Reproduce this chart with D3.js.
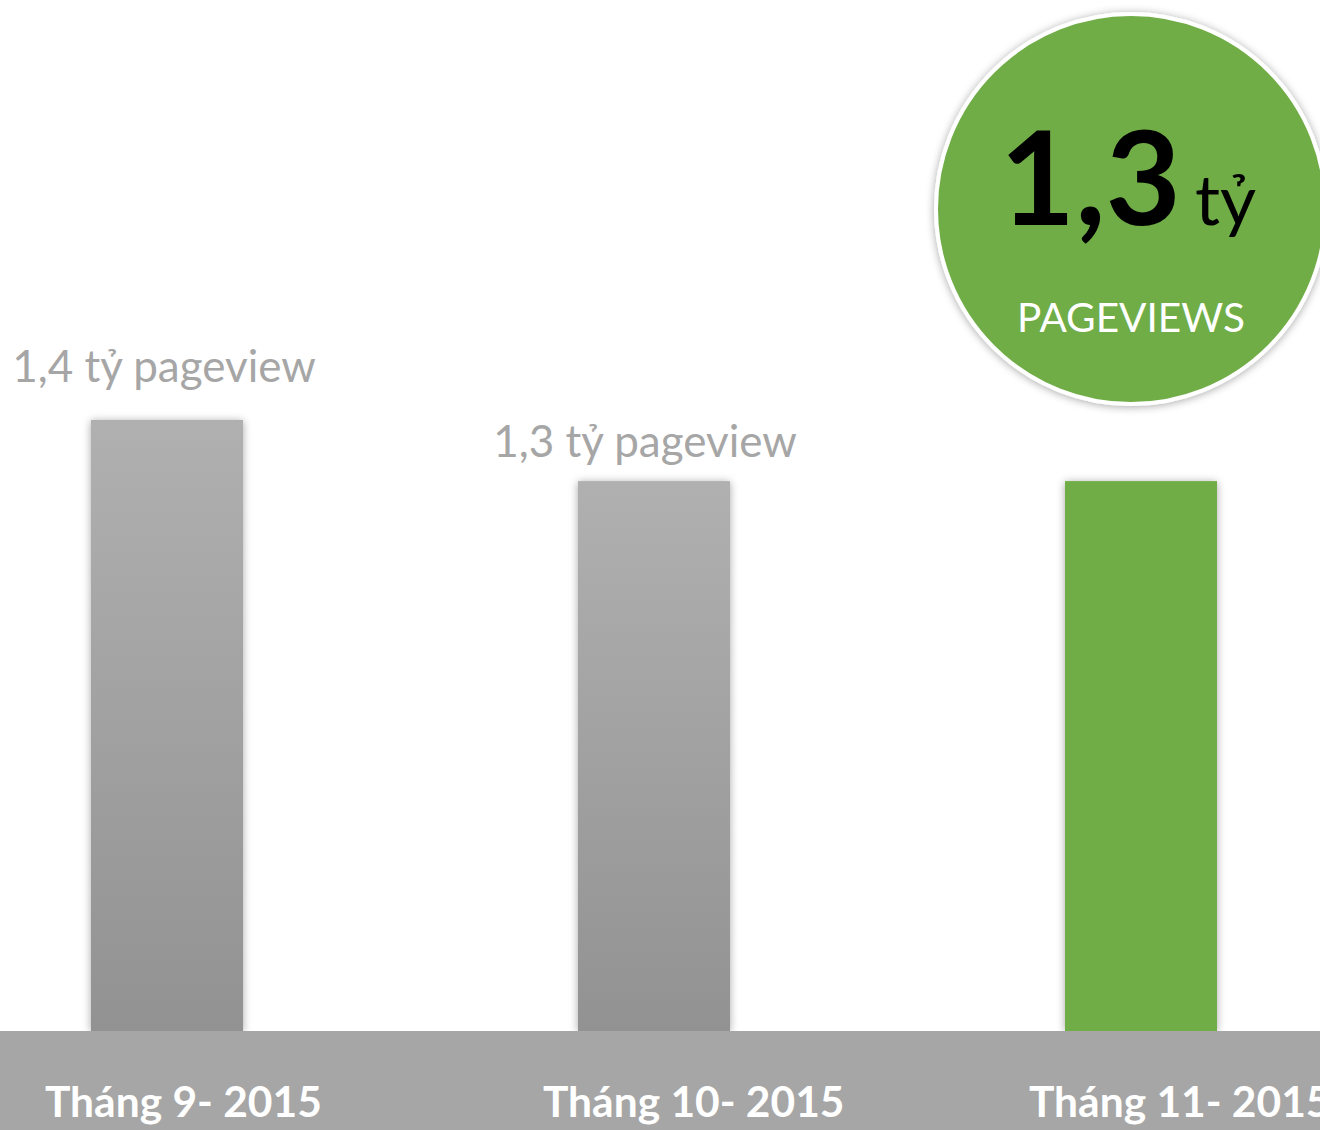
<!DOCTYPE html>
<html>
<head>
<meta charset="utf-8">
<script src="https://cdn.jsdelivr.net/npm/d3@7"></script>
<style>
  body { margin: 0; background: #fff; overflow: hidden; }
  svg { display: block; }
</style>
</head>
<body>
<script>
var months = ["Tháng 9- 2015", "Tháng 10- 2015", "Tháng 11- 2015"];
var pageviews = [1.4, 1.3, 1.3];
var valueLabels = ["1,4 tỷ pageview", "1,3 tỷ pageview", ""];
var highlight = [false, false, true];

var w = 1320;
var h = 1130;
var font = "Lato, 'Open Sans', sans-serif";

var svg = d3.select("body").append("svg").attr("width", w).attr("height", h);
var defs = svg.append("defs");

var grad = defs.append("linearGradient")
  .attr("id", "greyBar")
  .attr("x1", 0).attr("y1", 0).attr("x2", 0).attr("y2", 1);
grad.append("stop").attr("offset", "0%").attr("stop-color", "#b0b0b0");
grad.append("stop").attr("offset", "100%").attr("stop-color", "#929292");

var shadow = defs.append("filter").attr("id", "shadow")
  .attr("x", "-20%").attr("y", "-20%").attr("width", "140%").attr("height", "140%");
shadow.append("feDropShadow")
  .attr("dx", 0).attr("dy", 1).attr("stdDeviation", 4)
  .attr("flood-color", "#000").attr("flood-opacity", 0.35);

// bars
var xScale = d3.scalePoint().domain(months).range([167, 1141]);
var barWidth = 152;
var yScale = d3.scaleLinear().domain([0.4, 1.4]).range([1031, 420]);

svg.selectAll("rect.bar")
  .data(pageviews)
  .enter()
  .append("rect")
  .attr("class", "bar")
  .attr("x", function (d, i) { return xScale(months[i]) - barWidth / 2; })
  .attr("y", function (d) { return yScale(d); })
  .attr("width", barWidth)
  .attr("height", function (d) { return yScale(0.4) - yScale(d); })
  .attr("fill", function (d, i) { return highlight[i] ? "#70ad47" : "url(#greyBar)"; })
  .attr("filter", "url(#shadow)");

// the labels don't sit at the same distance above their bars
var labelGap = [38, 24, 24];
svg.selectAll("text.value")
  .data(pageviews)
  .enter()
  .append("text")
  .attr("class", "value")
  .attr("x", function (d, i) { return xScale(months[i]) - 3 - (i == 1 ? 6 : 0); })
  .attr("y", function (d, i) { return yScale(d) - labelGap[i]; })
  .attr("text-anchor", "middle")
  .attr("font-family", font)
  .attr("font-size", 44)
  .attr("fill", "#a6a6a6")
  .text(function (d, i) { return valueLabels[i]; });

// bottom band with month labels
svg.append("rect")
  .attr("x", 0).attr("y", yScale(0.4))
  .attr("width", w).attr("height", h - yScale(0.4))
  .attr("fill", "#a6a6a6");

var labelScale = d3.scalePoint().domain(months).range([45, 1029]);
svg.selectAll("text.month")
  .data(months)
  .enter()
  .append("text")
  .attr("class", "month")
  .attr("x", function (d) { return labelScale(d) + (d == months[1] ? 6 : 0); })
  .attr("y", 1117)
  .attr("font-family", font)
  .attr("font-weight", "bold")
  .attr("font-size", 42.5)
  .attr("fill", "#fff")
  .text(function (d) { return d; });

// highlight badge
var badge = svg.append("g").attr("transform", "translate(1131,209)");
badge.append("circle")
  .attr("r", 195)
  .attr("fill", "#70ad47")
  .attr("stroke", "#fff")
  .attr("stroke-width", 4)
  .attr("filter", "url(#shadow)");

var big = badge.append("text")
  .attr("x", -3)
  .attr("y", 16)
  .attr("text-anchor", "middle")
  .attr("font-family", font);
big.append("tspan")
  .attr("font-weight", "bold")
  .attr("font-size", 130)
  .attr("fill", "#000")
  .text("1,3");
big.append("tspan")
  .attr("dx", 14)
  .attr("font-size", 70)
  .attr("fill", "#000")
  .text("tỷ");

badge.append("text")
  .attr("y", 123)
  .attr("text-anchor", "middle")
  .attr("font-family", font)
  .attr("font-size", 40.5)
  .attr("fill", "#fff")
  .text("PAGEVIEWS");
</script>
</body>
</html>
